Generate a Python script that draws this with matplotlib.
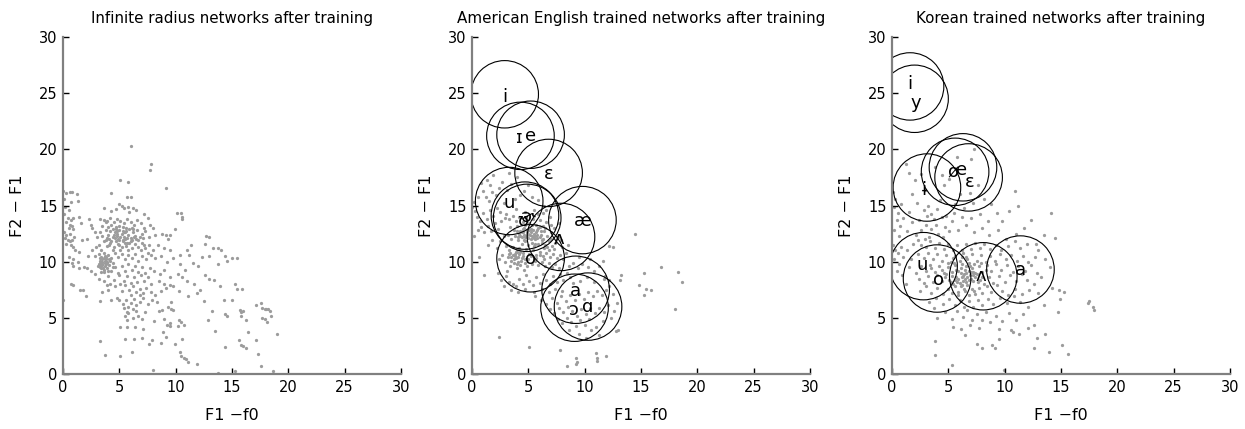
import matplotlib
matplotlib.use("Agg")
import matplotlib.pyplot as plt
from matplotlib.patches import Circle

plt.rcParams['font.family'] = ['DejaVu Sans']

# ---------------- data ----------------
titles = ["Infinite radius networks after training",
          "American English trained networks after training",
          "Korean trained networks after training"]
x_label = "F1 \u2212f0"
y_label = "F2 \u2212 F1"
ticks = [0, 5, 10, 15, 20, 25, 30]

# network positions (F1-f0, F2-F1), infinite radius
infinite_pts = [
    (0.0,16.3),(0.3,16.1),(0.6,16.2),(0.8,16.2),(1.2,16.0),(0.1,15.6),(0.7,15.3),(1.3,15.4),(0.2,14.9),(0.5,14.6),
    (0.1,14.2),(0.4,13.9),(0.7,13.7),(0.9,13.9),(1.4,14.0),(0.3,13.5),(0.6,13.3),(0.8,13.2),(0.5,13.0),(0.9,12.9),
    (1.6,13.4),(0.1,12.6),(0.3,12.4),(0.6,12.5),(0.2,12.1),(0.4,11.9),(0.6,11.8),(0.8,11.9),(1.0,12.2),(0.3,11.6),
    (0.7,11.5),(0.9,11.3),(1.1,11.0),(1.4,10.9),(0.5,10.4),(0.9,10.2),(1.3,10.0),(0.9,9.6),(1.4,9.4),(0.8,9.9),
    (0.7,8.0),(0.9,7.9),(1.5,7.5),(1.8,7.5),(2.0,6.9),(0.0,6.6),(1.9,9.5),(2.1,12.0),(2.3,13.8),(2.5,13.3),
    (1.7,11.9),(2.2,10.5),(2.5,9.2),(2.1,9.4),(2.6,11.0),(2.8,10.5),(2.6,13.0),
    (6.0,20.3),(7.8,18.7),(7.7,18.2),(5.1,17.3),(5.8,17.1),(9.1,16.6),(4.3,16.1),(5.7,15.8),(6.0,15.8),
    (3.6,14.8),(4.3,14.5),(4.7,14.7),(5.0,15.1),(5.4,14.8),(5.8,14.9),(6.2,14.8),(6.5,14.6),(7.2,14.2),(5.2,15.0),(5.9,14.4),
    (3.3,13.8),(3.6,13.7),(3.9,13.6),(4.2,13.9),(4.5,13.5),(4.8,13.8),(5.1,13.6),(5.4,13.4),(5.7,13.8),(6.0,13.5),
    (6.3,13.3),(6.6,13.7),(6.9,13.4),(7.2,13.0),(7.5,13.9),(7.7,13.3),(3.5,13.2),(4.0,13.1),(4.3,13.3),(4.7,13.1),
    (5.0,13.2),(5.6,13.0),(6.1,13.0),(8.0,13.0),(3.8,13.5),
    (3.3,12.6),(3.5,12.3),(3.8,12.8),(4.0,12.4),(4.2,12.7),(4.4,12.2),(4.6,12.6),(4.8,12.3),(5.0,12.8),(5.2,12.5),
    (5.4,12.2),(5.6,12.7),(5.8,12.4),(6.0,12.1),(6.2,12.6),(6.4,12.3),(6.6,12.8),(6.8,12.2),(7.0,12.5),(7.3,12.7),
    (7.6,12.2),(8.2,12.4),(8.8,12.5),(9.1,12.4),(3.0,12.2),(2.8,12.6),(4.1,12.0),(4.9,12.0),(5.5,12.0),(6.5,12.0),(7.1,12.1),
    (4.5,12.4),(5.1,12.2),(5.3,11.9),(4.7,12.9),(5.5,12.6),(4.3,11.8),(5.9,12.9),(6.1,11.9),(3.9,12.1),(5.7,11.7),
    (4.6,12.1),(4.9,11.6),(5.2,11.3),(5.4,12.6),(5.7,12.1),(6.0,11.8),(6.3,12.2),(4.4,12.9),(4.8,12.7),(5.3,13.1),
    (6.7,11.9),(5.0,11.9),(5.5,11.7),(6.2,12.9),(4.1,11.5),(3.8,11.9),(7.2,11.5),(7.5,10.8),(4.75,12.45),(5.35,12.75),
    (3.2,11.5),(3.6,11.8),(3.9,11.4),(4.2,11.7),(4.5,11.3),(4.7,11.8),(5.0,11.5),(5.3,11.8),(5.6,11.4),(5.9,11.7),
    (6.1,11.2),(6.4,11.6),(6.7,11.3),(7.0,11.7),(7.3,11.2),(7.6,11.5),(8.0,11.0),(8.4,11.5),(9.0,11.2),(9.5,11.0),
    (4.4,11.0),(5.1,11.0),(5.8,11.0),(6.9,11.0),(2.9,11.3),(3.4,11.0),(9.3,12.0),
    (3.2,10.7),(3.4,10.4),(3.6,10.8),(3.8,10.2),(4.0,10.6),(4.3,10.3),(4.6,10.8),(4.9,10.4),(5.2,10.7),(5.5,10.2),
    (5.8,10.6),(6.1,10.3),(6.4,10.7),(6.7,10.1),(7.0,10.5),(7.4,10.2),(7.8,10.6),(8.2,10.3),(8.7,10.5),(9.2,10.0),
    (3.3,10.1),(3.5,10.0),(10.4,10.6),(10.4,9.8),(9.8,10.3),(3.7,10.5),(3.4,9.9),(3.9,10.0),(4.1,10.2),(3.6,10.3),
    (3.3,9.9),(3.5,10.2),(3.7,9.6),(3.4,9.4),(3.8,10.4),(3.6,9.1),(3.9,9.9),(4.2,10.1),(3.25,10.3),(3.45,9.75),
    (4.0,9.2),(4.4,9.5),(3.55,9.45),(3.75,10.05),(3.3,9.65),
    (3.2,9.8),(3.3,9.5),(3.5,9.7),(3.6,9.3),(3.8,9.8),(3.9,9.4),(4.1,9.7),(4.3,9.2),(4.6,9.5),(4.9,9.0),
    (5.2,9.6),(5.5,9.2),(5.8,9.8),(6.1,9.3),(6.4,9.6),(6.7,9.1),(7.0,9.5),(7.3,9.0),(7.7,9.4),(8.1,9.2),
    (8.6,8.9),(9.0,9.3),(3.4,9.1),(3.7,9.9),(4.4,9.9),(3.1,9.6),(9.5,8.6),(10.2,8.9),
    (3.2,8.5),(3.6,8.3),(4.0,8.7),(4.5,8.4),(5.0,8.8),(5.4,8.3),(5.7,8.7),(6.0,8.1),(6.3,8.6),(6.6,8.2),
    (6.9,8.8),(7.2,8.3),(7.5,8.6),(7.8,8.0),(8.5,8.3),(9.0,8.0),(9.5,7.9),(4.2,8.0),(5.1,8.0),(2.8,8.9),(3.9,7.9),
    (3.5,7.3),(4.0,7.5),(4.6,7.8),(5.2,7.4),(5.5,7.9),(5.9,7.5),(6.2,7.8),(6.5,7.3),(6.8,7.6),(7.1,7.2),
    (7.4,7.7),(7.8,7.3),(8.2,7.0),(8.7,7.4),(9.1,7.7),(9.8,7.8),(10.3,7.4),(6.0,7.0),(6.8,7.0),(4.8,6.8),(3.3,6.5),
    (5.0,6.6),(5.3,6.2),(5.6,6.6),(5.8,6.0),(6.0,6.3),(6.3,6.7),(6.5,6.1),(6.8,6.4),(7.1,6.8),(7.5,6.2),
    (7.9,6.6),(8.3,6.4),(5.4,5.9),(6.2,5.8),(5.7,5.5),(9.3,6.0),(9.6,6.4),(9.6,5.8),(9.8,5.7),(4.3,6.6),
    (5.5,5.2),(5.8,5.4),(6.2,5.0),(6.5,5.6),(7.0,4.9),(7.3,5.5),(5.7,4.8),(5.1,4.2),(5.7,4.2),(6.4,4.2),
    (7.1,4.0),(8.1,4.7),(8.5,5.6),(8.8,5.7),(9.0,4.9),(9.2,4.4),(9.5,4.3),(9.5,4.5),(10.2,4.3),(10.3,4.8),
    (10.5,4.6),(10.7,4.4),(6.7,5.2),
    (7.0,3.2),(7.9,3.0),(7.6,2.7),(8.7,2.8),(9.1,3.3),(8.9,3.7),(8.0,0.4),(6.3,3.1),(5.5,3.1),(6.1,2.0),
    (5.1,1.6),(3.7,1.7),(3.3,2.9),(9.9,2.7),(10.6,3.1),(10.4,2.0),(10.5,1.6),(10.7,1.4),(10.9,1.3),(11.1,1.1),
    (11.9,0.9),(13.8,0.1),(15.3,0.3),
    (10.5,14.3),(10.6,14.0),(10.6,13.8),(10.1,14.3),(9.9,12.9),(9.5,12.4),(12.7,12.3),(13.0,12.2),(12.6,11.6),(13.3,11.2),
    (13.8,11.2),(14.0,11.0),(14.4,10.5),(15.0,10.3),(15.4,10.3),(14.6,10.1),(13.8,9.8),(13.0,10.5),(11.4,11.5),(11.2,10.6),
    (11.5,9.9),(11.0,8.3),(12.6,8.8),(13.0,8.5),(13.4,8.4),(13.9,7.8),(15.3,8.0),(15.4,7.6),(15.9,7.6),(12.2,7.5),
    (11.9,7.2),(11.1,6.9),(12.5,6.5),(13.2,5.6),(12.9,4.8),(13.5,3.8),(14.4,5.3),(14.6,5.2),(14.3,6.6),(15.0,6.6),
    (15.7,5.7),(15.8,5.5),(16.0,5.6),(15.8,5.2),(16.2,4.8),(16.4,3.7),(15.6,3.0),(15.8,2.6),(16.0,2.5),(16.2,2.3),
    (14.4,2.4),(17.1,3.0),(17.3,1.8),(17.6,0.7),(18.6,0.3),(17.1,6.1),(17.6,6.3),(17.7,5.9),(17.9,5.8),(18.0,5.8),
    (18.2,5.8),(18.4,5.6),(18.5,5.2),(17.9,4.9),(18.1,4.6),(17.7,5.0),(19.0,3.6),(11.0,11.0),(10.8,9.3),(12.0,9.6),
    (12.3,10.4),(11.6,8.0),(10.6,8.6),
]

# network positions, American English trained
english_pts = [
    (0.0,14.9),(0.2,15.3),(0.3,14.5),(0.5,15.8),(0.8,17.0),(1.0,16.3),(1.3,17.3),(1.6,16.8),(1.9,17.7),(1.2,15.8),
    (1.5,15.4),(1.8,16.2),(2.1,15.9),(2.4,16.6),(2.7,17.1),(0.4,14.0),(0.7,13.6),(1.0,14.3),(1.3,13.8),(1.6,14.6),
    (1.9,14.1),(2.2,14.8),(2.5,14.4),(2.8,15.2),(0.2,12.3),(0.5,12.8),(0.8,13.1),(1.1,12.6),(1.4,13.2),(1.7,12.7),
    (2.0,13.4),(2.3,12.9),(2.6,13.6),(2.9,13.9),(0.6,10.4),(1.1,8.8),(1.4,11.5),(1.8,11.9),(2.2,11.2),(2.5,11.8),
    (2.8,12.3),(3.1,16.4),(3.5,16.9),(4.0,17.5),(4.6,16.3),(5.3,15.8),(5.9,15.5),(4.3,15.9),(3.8,15.6),(5.0,16.8),
    (6.4,15.0),(3.3,17.9),
    (3.0,14.2),(3.3,13.8),(3.6,14.1),(3.9,13.6),(4.2,14.0),(4.5,13.5),(4.8,13.9),(5.1,13.4),(5.4,13.8),(5.7,13.3),
    (6.0,13.7),(6.3,13.2),(6.6,13.5),(3.4,13.1),(3.7,12.8),(4.0,13.2),(4.3,12.7),(4.6,13.0),(4.9,12.6),(5.2,12.9),
    (5.5,12.5),(5.8,12.8),(6.1,12.4),(6.4,12.7),(6.7,12.3),(7.0,12.6),(3.2,12.4),(3.5,12.0),(3.8,12.3),(4.1,11.9),
    (4.4,12.2),(4.7,11.8),(5.0,12.1),(5.3,11.7),(5.6,12.0),(5.9,11.6),(6.2,11.9),(6.5,11.5),(6.8,11.8),(7.1,11.4),
    (7.4,11.7),(4.2,12.5),(4.8,12.3),(5.4,12.2),(6.0,12.2),(4.5,12.9),(5.1,12.8),(5.7,12.6),(4.0,12.7),(5.9,13.0),
    (6.5,13.0),(4.4,12.6),(5.0,12.5),(5.3,12.3),(4.7,12.2),(5.6,12.3),(6.3,12.0),(4.6,12.4),(5.2,12.0),(5.8,12.1),
    (4.3,12.3),(4.6,11.9),(4.9,12.4),(5.2,12.6),(5.5,12.1),(5.8,12.4),(6.1,12.7),(4.1,12.2),(4.4,11.6),(5.0,11.5),
    (5.6,11.6),(6.2,11.7),(5.3,13.3),(4.7,13.3),(6.0,13.1),(4.85,12.85),(5.45,12.85),(5.15,12.35),(4.55,12.65),
    (3.0,11.4),(3.3,11.0),(3.6,11.3),(3.9,10.9),(4.2,11.2),(4.5,10.8),(4.8,11.1),(5.1,10.7),(5.4,11.0),(5.7,10.6),
    (6.0,10.9),(6.3,10.5),(6.6,10.8),(6.9,10.4),(7.2,10.7),(7.5,10.3),(7.8,10.6),(8.1,10.2),(3.2,10.4),(3.5,10.1),
    (3.8,10.5),(4.1,10.0),(4.4,10.3),(4.7,9.9),(5.0,10.2),(5.3,9.8),(5.6,10.1),(5.9,9.7),(6.2,10.0),(6.5,9.6),
    (6.8,9.9),(7.1,9.5),(7.4,9.8),(7.7,9.4),(3.4,9.6),(3.7,9.9),(4.0,9.4),(4.3,9.7),(4.6,9.3),(4.9,9.6),
    (2.9,10.0),(2.7,10.6),(2.4,10.2),(3.1,9.2),(8.0,11.3),(8.3,10.8),(7.6,12.2),(7.9,11.9),(8.5,11.5),(7.3,13.0),
    (7.7,13.4),(6.9,14.0),(6.3,14.3),(5.5,14.6),(4.7,14.4),(3.9,14.7),(7.0,13.3),(6.6,14.6),(5.9,14.2),
    (3.6,10.6),(3.9,10.3),(4.2,10.7),(3.5,10.4),(4.0,10.9),(3.3,10.7),(6.4,11.2),(6.8,11.0),(7.0,12.0),(5.5,11.4),
    (3.7,10.2),(4.1,10.4),(4.3,10.9),(3.8,10.7),(4.5,10.5),(4.7,10.2),(5.2,10.5),(5.7,10.3),(6.0,10.6),(6.4,10.2),
    (3.4,10.8),(4.0,11.1),(6.7,11.3),(7.3,11.1),(3.95,9.75),(4.35,10.05),
    (3.0,8.7),(3.3,8.2),(3.6,8.0),(3.9,7.8),(4.2,8.5),(4.5,8.0),(4.8,8.8),(5.1,8.3),(5.4,7.9),(5.7,8.6),
    (6.0,8.1),(6.3,8.9),(6.6,8.4),(6.9,8.0),(7.2,8.7),(7.5,8.2),(7.8,8.9),(8.1,8.4),(8.4,9.0),(8.7,8.6),
    (3.5,7.5),(4.1,7.3),(4.7,7.6),(5.5,7.3),(6.2,7.6),(6.8,7.3),(7.4,7.6),(8.0,7.4),(2.8,7.8),(2.6,8.4),
    (2.3,9.0),(8.6,9.6),(9.0,9.9),(9.4,9.4),(9.8,9.8),(10.3,9.5),(10.8,9.2),(11.3,9.6),(11.6,10.1),(10.5,10.2),
    (9.5,10.4),(11.8,8.7),(12.2,8.4),
    (5.6,6.9),(6.1,6.6),(6.6,6.2),(7.1,6.8),(7.5,6.3),(7.9,6.9),(8.3,6.5),(8.7,7.0),(9.1,6.6),(9.5,7.1),
    (9.9,6.7),(10.3,7.3),(10.7,6.9),(11.1,7.4),(11.5,7.0),(11.9,7.5),(6.9,5.8),(7.3,5.4),(7.7,5.9),(8.1,5.5),
    (8.5,6.0),(8.9,5.6),(9.3,5.2),(9.7,5.8),(10.1,5.3),(10.5,5.9),(10.9,5.4),(11.3,5.9),(11.7,5.5),(12.1,6.1),
    (7.6,4.9),(8.0,4.5),(8.4,5.0),(8.8,4.6),(9.2,4.3),(9.6,4.8),(10.0,4.4),(10.4,4.9),(11.0,4.2),(11.6,4.7),
    (12.3,5.0),(12.6,5.6),(12.9,6.3),(12.5,7.1),(12.2,7.8),(11.7,8.5),(10.8,8.2),(10.2,8.6),(9.6,8.3),(9.0,8.1),
    (12.8,3.8),(10.6,3.9),(11.3,3.5),(8.6,3.9),(9.5,3.6),(10.1,3.2),
    (14.5,12.5),(12.2,11.4),(12.5,11.3),(15.3,9.0),(16.8,9.5),(18.3,9.1),(18.6,8.2),(14.8,7.9),(15.4,7.6),(15.9,7.5),
    (15.3,7.0),(18.0,5.8),(13.2,8.8),(13.1,8.4),(2.4,3.3),(5.1,2.4),(7.8,2.1),(8.4,0.7),(9.2,1.4),(9.3,1.1),
    (9.2,0.9),(11.0,1.9),(11.1,1.4),(11.1,1.2),(11.9,1.6),(13.0,3.9),
]

# network positions, Korean trained
korean_pts = [
    (0.1,16.2),(0.3,15.6),(0.2,14.9),(0.5,14.3),(0.8,15.1),(0.4,13.7),(0.7,13.2),(1.0,13.9),(0.2,12.8),(0.6,12.3),
    (1.3,12.7),(1.5,17.9),(1.8,16.0),(2.2,15.2),(2.6,17.8),(2.9,16.4),(3.2,15.0),(3.5,14.2),(2.8,14.6),(2.4,13.7),
    (3.0,13.3),(3.7,13.8),(4.0,14.7),(4.3,15.5),(4.6,16.8),(5.1,17.4),(5.6,15.1),(6.0,16.0),(6.4,14.8),(6.9,16.1),
    (7.2,15.2),(7.6,16.8),(8.2,15.6),(8.8,15.1),(9.3,14.3),(10.9,16.3),(11.2,15.0),(10.4,14.5),(9.8,13.6),(12.3,13.7),
    (14.1,14.3),(14.5,12.1),(7.0,19.1),(7.3,20.0),(5.8,19.3),(4.4,17.7),(3.8,18.4),(1.2,18.7),(2.0,17.3),(3.5,12.9),
    (4.1,12.5),(4.7,13.1),(5.3,13.6),(5.9,12.8),(6.6,13.3),(7.3,12.6),(8.0,13.0),(8.6,12.4),(9.4,12.8),(10.1,12.0),
    (11.0,12.5),(11.7,13.0),(12.8,11.6),(13.5,12.4),(3.3,12.2),(4.8,14.1),(5.5,14.3),(6.2,14.0),(7.0,13.9),(7.8,14.2),
    (8.5,13.6),(1.8,13.5),(2.1,12.4),(2.6,12.8),(3.1,14.1),(3.9,13.3),(4.4,14.0),(1.5,14.4),(2.3,11.9),(4.5,12.2),
    (5.1,12.7),
    (0.1,11.5),(0.3,11.0),(0.5,10.8),(0.8,11.3),(0.2,10.2),(0.6,9.8),(1.0,10.4),(1.3,11.0),(1.5,9.5),(0.4,9.2),
    (0.9,8.8),(1.2,8.0),(1.7,10.2),(1.9,11.6),(2.1,9.0),(2.3,10.7),(2.6,11.5),(2.9,12.0),
    (3.0,11.3),(3.4,11.8),(3.8,11.2),(4.2,11.7),(4.6,11.1),(5.0,11.6),(5.4,11.0),(5.8,11.5),(6.2,11.0),(6.6,11.6),
    (7.0,11.1),(7.4,11.7),(7.8,11.2),(8.2,11.6),(8.7,11.1),(9.2,11.5),(9.7,11.0),(10.3,11.4),(10.9,11.8),(11.4,11.2),
    (12.0,11.6),
    (2.8,10.3),(3.2,10.8),(3.6,10.2),(4.0,10.7),(4.4,10.1),(4.8,10.6),(5.2,10.0),(5.6,10.5),(6.0,10.1),(6.3,10.8),
    (6.7,10.2),(7.1,10.7),(7.5,10.1),(7.9,10.6),(8.3,10.0),(8.7,10.5),(9.1,10.1),(9.6,10.7),(10.1,10.2),(10.6,10.6),
    (11.1,10.1),(11.6,10.5),(12.1,10.0),(12.7,10.4),
    (2.6,9.6),(3.0,9.2),(3.4,9.7),(3.8,9.1),(4.2,9.6),(4.6,9.0),(5.0,9.5),(5.3,9.1),(5.6,9.7),(5.9,9.2),
    (6.2,9.8),(6.5,9.3),(6.8,9.9),(7.1,9.4),(7.4,9.0),(7.7,9.6),(8.0,9.1),(8.4,9.7),(8.8,9.2),(9.2,9.8),
    (9.7,9.3),(10.2,9.7),(10.7,9.1),(11.2,9.6),(11.8,9.2),(12.3,9.7),(12.9,9.0),(5.5,9.9),(6.6,9.6),(7.3,9.8),
    (2.4,8.5),(2.8,8.1),(3.2,8.7),(3.6,8.2),(4.0,8.8),(4.4,8.3),(4.8,8.9),(5.1,8.4),(5.4,8.0),(5.7,8.6),
    (6.0,8.1),(6.3,8.7),(6.6,8.2),(6.9,8.8),(7.2,8.3),(7.5,8.9),(7.8,8.4),(8.2,8.0),(8.6,8.6),(9.0,8.1),
    (9.5,8.7),(10.0,8.2),(10.5,8.8),(11.0,8.3),(11.5,8.9),(12.0,8.4),(12.6,8.0),(13.2,8.6),(5.9,8.5),(6.5,8.5),
    (7.0,8.5),(6.1,9.0),(6.8,9.2),(5.7,9.3),(6.4,8.9),(7.2,9.1),(5.3,8.7),(6.1,7.8),(6.7,7.9),(5.8,8.2),
    (6.3,8.3),(6.7,8.6),(7.0,9.1),(7.4,8.6),(6.1,9.4),(5.6,8.4),(6.9,9.6),(7.6,8.2),(6.4,7.6),(5.2,8.2),
    (7.3,7.4),(5.9,7.0),(8.0,8.6),(6.6,10.4),(5.0,9.9),(4.4,9.3),(7.9,9.9),(6.2,10.4),(5.4,10.3),(4.7,8.6),
    (3.5,9.4),(8.3,9.3),(6.55,8.95),(6.85,8.35),(6.25,8.65),(7.15,8.85),
    (2.5,7.4),(3.0,7.8),(3.5,7.2),(4.0,7.7),(4.5,7.1),(5.0,7.6),(5.3,7.2),(5.6,7.8),(5.9,7.3),(6.2,7.9),
    (6.5,7.4),(6.8,7.0),(7.1,7.6),(7.4,7.1),(7.7,7.7),(8.0,7.2),(8.4,7.8),(8.8,7.3),(9.3,7.9),(9.8,7.4),
    (10.3,7.0),(10.9,7.6),(11.5,7.1),(12.2,7.5),(13.0,7.2),(14.2,7.7),(14.8,7.5),
    (3.3,6.4),(3.9,6.8),(4.5,6.2),(5.1,6.7),(5.6,6.1),(6.0,6.6),(6.4,6.0),(6.8,6.5),(7.2,6.0),(7.6,6.6),
    (8.0,6.1),(8.5,6.7),(9.0,6.2),(9.6,6.8),(10.2,6.3),(10.8,6.9),(11.4,6.4),(12.1,6.0),(13.5,6.1),(3.7,5.9),
    (4.0,5.0),(4.7,5.5),(5.3,4.9),(5.8,5.6),(6.3,5.1),(6.7,5.7),(7.1,4.8),(7.5,5.3),(8.0,4.8),(8.3,5.5),
    (8.7,4.6),(9.2,5.2),(9.8,4.7),(10.4,5.4),(11.0,4.8),(11.6,5.3),(12.6,4.4),(14.7,5.5),(5.4,4.2),(6.1,4.0),
    (6.9,4.4),(7.7,4.1),(9.5,4.0),(10.6,3.9),(6.5,3.5),
    (17.4,6.3),(17.5,6.5),(17.8,6.0),(17.9,5.7),(15.6,1.8),(15.1,2.6),(13.9,2.0),(13.6,3.6),(12.6,2.3),(12.9,3.2),
    (9.9,0.4),(5.3,0.8),(3.8,1.7),(3.8,2.9),(7.5,2.7),(8.0,2.3),(9.1,2.3),(8.9,2.6),(9.5,3.1),(10.7,3.7),
    (11.3,3.6),(12.1,4.1),(14.9,6.7),(15.3,7.3),(14.0,9.5),(13.6,10.2),(13.0,11.0),
]

# vowel categories: symbol, centre (F1-f0, F2-F1)
english_vowels = ["i", "\u026a", "e", "\u025b", "u", "\u028a", "\u025a", "\u00e6", "\u028c", "o", "a", "\u0254", "\u0251"]
english_x = [2.9, 4.3, 5.2, 6.8, 3.3, 4.7, 4.9, 9.8, 7.9, 5.2, 9.2, 9.1, 10.3]
english_y = [24.9, 21.2, 21.3, 17.9, 15.4, 14.1, 13.9, 13.7, 12.2, 10.3, 7.5, 5.9, 6.0]

korean_vowels = ["i", "y", "\u0268", "\u00f8", "e", "\u025b", "u", "o", "\u028c", "a"]
korean_x = [1.6, 2.0, 3.1, 5.6, 6.3, 6.8, 2.8, 4.0, 8.1, 11.4]
korean_y = [25.6, 24.5, 16.6, 18.0, 18.4, 17.5, 9.6, 8.5, 8.7, 9.3]

# label placement relative to the category centre
english_label_xy = [(2.9, 24.7), (4.2, 21.0), (5.2, 21.2), (6.8, 17.8), (3.3, 15.2), (4.6, 13.6),
                    (5.0, 14.0), (9.8, 13.6), (7.7, 12.0), (5.2, 10.2), (9.2, 7.4), (9.0, 5.7), (10.3, 6.0)]
korean_label_xy = [(1.6, 25.8), (2.1, 24.1), (2.9, 16.4), (5.4, 17.9), (6.2, 18.2), (6.9, 17.1),
                   (2.7, 9.7), (4.1, 8.4), (7.9, 8.7), (11.4, 9.3)]

radius = 3.0

# ---------------- drawing ----------------
W, H = 1245, 429
fig = plt.figure(figsize=(W / 100, H / 100), dpi=100)
lefts = [63, 472, 892]
ax_w, ax_h = 338, 337
bottom = 374

spine_col = "#808080"
dot_col = "#9c9c9c"

panels = [infinite_pts, english_pts, korean_pts]
axes = []
for k, pts in enumerate(panels):
    ax = fig.add_axes([lefts[k] / W, (H - bottom) / H, ax_w / W, ax_h / H])
    axes.append(ax)
    xs = [p[0] for p in pts]
    ys = [p[1] for p in pts]
    ax.scatter(xs, ys, s=5.5, c=dot_col, linewidths=0, zorder=1)
    ax.set_xlim(0, 30)
    ax.set_ylim(0, 30)
    ax.set_xticks(ticks)
    ax.set_yticks(ticks)
    for side in ("top", "right"):
        ax.spines[side].set_visible(False)
    for side in ("left", "bottom"):
        ax.spines[side].set_color(spine_col)
        ax.spines[side].set_linewidth(1.6)
    ax.tick_params(direction="in", length=4, width=1, color="black",
                   labelsize=10.5, labelcolor="black", pad=4)
    ax.set_xlabel(x_label, fontsize=11.5, labelpad=10)
    ax.set_ylabel(y_label, fontsize=11.5, labelpad=10)
    ax.set_title(titles[k], fontsize=10.9, pad=10)


def draw_vowels(ax, names, cx, cy, label_xy):
    for name, x, y, (lx, ly) in zip(names, cx, cy, label_xy):
        ax.add_patch(Circle((x, y), radius, fill=False, edgecolor="black", linewidth=0.8, zorder=2))
        ax.text(lx, ly, name, ha="center", va="center", fontsize=13, zorder=3)


draw_vowels(axes[1], english_vowels, english_x, english_y, english_label_xy)
draw_vowels(axes[2], korean_vowels, korean_x, korean_y, korean_label_xy)

fig.savefig("out.png", dpi=100)
